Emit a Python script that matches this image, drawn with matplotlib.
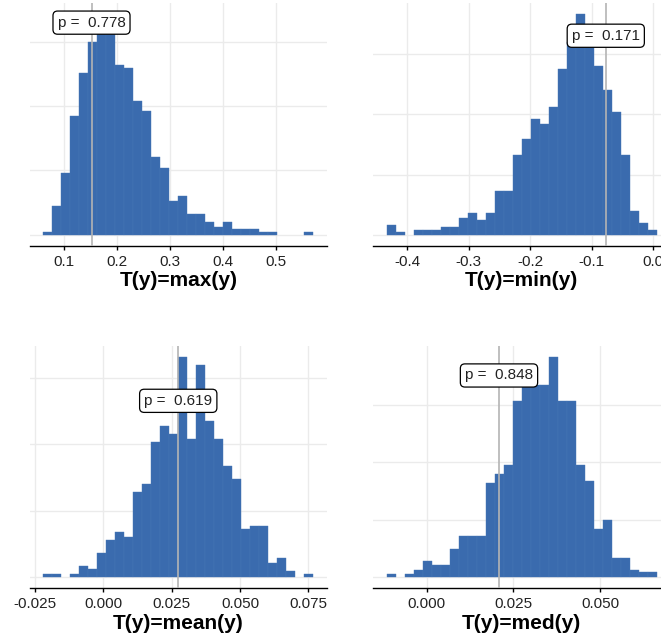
import numpy as np
import matplotlib
matplotlib.use('Agg')
import matplotlib.pyplot as plt

plt.rcParams.update({
    'font.family': ['Liberation Sans', 'DejaVu Sans'],
    'font.size': 11,
    'xtick.labelsize': 11,
    'axes.labelsize': 15,
})

FILL = '#3a6bae'
EDGE = '#4877b5'
GRID = '#ebebeb'
TY_LINE = '#b4b4b4'

# posterior predictive draws of T(y), 30 bins per panel (counts)
MAX_COUNTS = [1, 11, 24, 46, 63, 75, 80, 86, 66, 65, 52, 48, 30, 26, 13,
              15, 8, 8, 5, 3, 5, 2, 2, 2, 1, 1, 0, 0, 0, 1]
MAX_RANGE = (0.0609, 0.5711)
MAX_TY = 0.152
MAX_P = 0.778

MIN_COUNTS = [4, 1, 0, 2, 2, 2, 3, 3, 7, 9, 6, 9, 18, 18, 33,
              40, 48, 46, 53, 69, 80, 92, 79, 70, 60, 51, 33, 10, 5, 2]
MIN_RANGE = (-0.4335, 0.0055)
MIN_TY = -0.0773
MIN_P = 0.171

MEAN_COUNTS = [1, 1, 0, 1, 4, 3, 9, 14, 17, 15, 32, 35, 51, 57, 54,
               83, 52, 80, 59, 52, 42, 37, 18, 19, 19, 5, 7, 2, 0, 1]
MEAN_RANGE = (-0.02194, 0.07678)
MEAN_TY = 0.0274
MEAN_P = 0.619

MED_COUNTS = [1, 0, 1, 3, 7, 5, 5, 12, 18, 18, 18, 41, 45, 49, 77,
              84, 84, 84, 96, 77, 77, 49, 42, 21, 25, 8, 8, 3, 2, 2]
MED_RANGE = (-0.01154, 0.06634)
MED_TY = 0.02085
MED_P = 0.848

MAX_TICKS = [0.1, 0.2, 0.3, 0.4, 0.5]
MAX_LABELS = ['0.1', '0.2', '0.3', '0.4', '0.5']
MIN_TICKS = [-0.4, -0.3, -0.2, -0.1, 0.0]
MIN_LABELS = ['-0.4', '-0.3', '-0.2', '-0.1', '0.0']
MEAN_TICKS = [-0.025, 0.0, 0.025, 0.05, 0.075]
MEAN_LABELS = ['-0.025', '0.000', '0.025', '0.050', '0.075']
MED_TICKS = [0.0, 0.025, 0.05]
MED_LABELS = ['0.000', '0.025', '0.050']

W, H = 661, 639


def px_rect(left, top, right, bottom):
    return [left / W, 1 - bottom / H, (right - left) / W, (bottom - top) / H]


def plot_stat(ax, counts, xrange, ty, p, ticks, labels, xlabel, label_y):
    counts = np.asarray(counts, dtype=float)
    lo, hi = xrange
    edges = np.linspace(lo, hi, len(counts) + 1)
    keep = counts > 0
    ax.bar(edges[:-1][keep], counts[keep], width=edges[1] - edges[0],
           align='edge', color=FILL, edgecolor=EDGE, lw=0.3, zorder=2)

    pad = 0.05 * (hi - lo)
    ax.set_xlim(lo - pad, hi + pad)
    top = counts.max()
    ax.set_ylim(-0.05 * top, 1.05 * top)
    ax.set_yticks([0, 25, 50, 75])
    ax.set_xticks(ticks)
    ax.set_xticklabels(labels)

    ax.grid(True, color=GRID, lw=1.0)
    ax.set_axisbelow(True)
    ax.axvline(ty, color=TY_LINE, lw=1.2, zorder=3)
    ax.text(ty, label_y, f'p =  {p:.3f}', ha='center', va='center',
            color='#222222', zorder=5,
            bbox=dict(boxstyle='round,pad=0.3,rounding_size=0.3',
                      fc='white', ec='black', lw=0.9))

    for s in ('top', 'right', 'left'):
        ax.spines[s].set_visible(False)
    ax.spines['bottom'].set_linewidth(1.0)
    ax.tick_params(axis='y', left=False, labelleft=False)
    ax.tick_params(axis='x', length=3, width=1, pad=4, labelcolor='#222222')
    ax.set_xlabel(xlabel, fontweight='bold', labelpad=1.5)


if __name__ == '__main__':
    fig = plt.figure(figsize=(W / 100, H / 100), dpi=100)

    panels = [
        (px_rect(29.8, 2.6, 326.8, 245.6), MAX_COUNTS, MAX_RANGE, MAX_TY, MAX_P,
         MAX_TICKS, MAX_LABELS, 'T(y)=max(y)', 82.5),
        (px_rect(373.2, 2.6, 670.2, 245.6), MIN_COUNTS, MIN_RANGE, MIN_TY, MIN_P,
         MIN_TICKS, MIN_LABELS, 'T(y)=min(y)', 82.8),
        (px_rect(29.8, 346.2, 326.8, 587.7), MEAN_COUNTS, MEAN_RANGE, MEAN_TY, MEAN_P,
         MEAN_TICKS, MEAN_LABELS, 'T(y)=mean(y)', 66.5),
        (px_rect(373.2, 346.2, 670.2, 587.7), MED_COUNTS, MED_RANGE, MED_TY, MED_P,
         MED_TICKS, MED_LABELS, 'T(y)=med(y)', 88.0),
    ]
    for rect, counts, xr, ty, p, ticks, labels, xlabel, ly in panels:
        ax = fig.add_axes(rect)
        plot_stat(ax, counts, xr, ty, p, ticks, labels, xlabel, ly)

    fig.savefig('out.png', dpi=100, facecolor='white')
    plt.close(fig)
